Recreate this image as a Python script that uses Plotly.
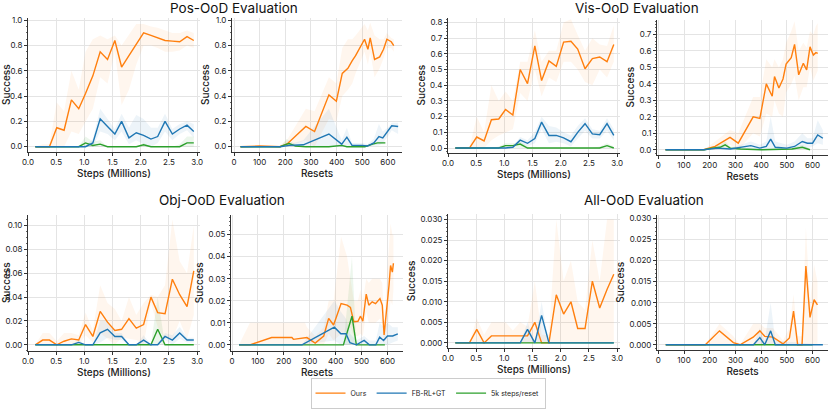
import plotly.graph_objects as go

# ---- data ----
STEPS = [0.13, 0.26, 0.38, 0.51, 0.64, 0.77, 0.90, 1.02, 1.15, 1.28, 1.41, 1.54,
         1.66, 1.79, 1.92, 2.05, 2.18, 2.30, 2.43, 2.56, 2.69, 2.82, 2.94]
ZEROS_STEPS = [0, 0, 0, 0, 0, 0, 0, 0, 0, 0, 0, 0, 0, 0, 0, 0, 0, 0, 0, 0, 0, 0, 0]

# Pos-OoD, steps
pos_ours = [0, 0, 0, 0.15, 0.13, 0.37, 0.30, 0.42, 0.56, 0.75, 0.69, 0.84, 0.63, 0.72, 0.81, 0.90, 0.88, 0.86, 0.84, 0.835, 0.83, 0.87, 0.84]
pos_ours_hi = [0, 0.02, 0.02, 0.35, 0.28, 0.60, 0.45, 0.75, 0.85, 0.88, 0.85, 0.88, 0.80, 0.88, 0.97, 0.97, 0.95, 0.94, 0.92, 0.90, 0.90, 0.92, 0.90]
pos_ours_lo = [0, 0, 0, 0, 0, 0.12, 0.10, 0.20, 0.30, 0.55, 0.50, 0.75, 0.33, 0.45, 0.65, 0.80, 0.80, 0.78, 0.75, 0.75, 0.76, 0.80, 0.78]
pos_fb = [0, 0, 0, 0, 0, 0, 0, 0, 0.03, 0.22, 0.16, 0.10, 0.20, 0.07, 0.11, 0.09, 0.06, 0.08, 0.20, 0.10, 0.14, 0.17, 0.12]
pos_fb_hi = [0, 0, 0, 0, 0, 0, 0, 0.01, 0.06, 0.30, 0.22, 0.14, 0.26, 0.15, 0.25, 0.22, 0.15, 0.15, 0.26, 0.14, 0.18, 0.20, 0.18]
pos_fb_lo = [0, 0, 0, 0, 0, 0, 0, 0, 0, 0.12, 0.10, 0.05, 0.12, 0.02, 0.05, 0.02, 0, 0.03, 0.12, 0.05, 0.10, 0.13, 0.07]
pos_gr = [0, 0, 0, 0, 0, 0, 0, 0.03, 0.01, 0.02, 0, 0, 0, 0, 0, 0.015, 0, 0, 0, 0, 0, 0.03, 0.03]
pos_gr_hi = [0, 0, 0, 0, 0, 0, 0, 0.08, 0.04, 0.05, 0, 0, 0, 0, 0, 0.03, 0, 0, 0, 0, 0.02, 0.08, 0.08]

# Pos-OoD, resets
posr_ours_x = [25, 100, 178, 206, 280, 314, 370, 399, 422, 444, 461, 474, 509, 522, 531, 548, 568, 583, 596, 613, 623]
posr_ours = [0, 0.005, 0, 0.02, 0.16, 0.12, 0.41, 0.36, 0.58, 0.62, 0.68, 0.72, 0.85, 0.77, 0.86, 0.69, 0.71, 0.77, 0.85, 0.83, 0.80]
posr_ours_hi = [0, 0.01, 0.01, 0.05, 0.30, 0.28, 0.55, 0.50, 0.78, 0.85, 0.85, 0.88, 0.97, 0.92, 0.98, 0.88, 0.85, 0.85, 0.90, 0.86, 0.85]
posr_ours_lo = [0, 0, 0, 0, 0.05, 0, 0.22, 0.20, 0.40, 0.45, 0.50, 0.58, 0.75, 0.65, 0.75, 0.55, 0.62, 0.70, 0.78, 0.78, 0.75]
posr_fb_x = [25, 180, 215, 270, 370, 420, 440, 460, 500, 520, 545, 565, 580, 600, 615, 640]
posr_fb = [0, 0, 0.01, 0.015, 0.10, 0.02, 0.075, 0.01, 0.01, 0.005, 0.03, 0.08, 0.07, 0.12, 0.165, 0.16]
posr_fb_hi = [0, 0, 0.02, 0.05, 0.30, 0.05, 0.15, 0.03, 0.03, 0.02, 0.06, 0.18, 0.12, 0.15, 0.19, 0.19]
posr_fb_lo = [0, 0, 0, 0, 0, 0, 0.01, 0, 0, 0, 0.01, 0.01, 0.03, 0.08, 0.13, 0.10]
posr_gr_x = [25, 180, 205, 215, 240, 280, 370, 420, 440, 510, 540, 560, 590]
posr_gr = [0, 0, 0.02, 0.025, 0.005, 0, 0, 0.01, 0, 0, 0.02, 0.03, 0.03]
posr_gr_hi = [0, 0, 0.06, 0.05, 0.02, 0, 0, 0.02, 0, 0, 0.03, 0.04, 0.04]
posr_gr_lo = [0, 0, 0, 0.005, 0, 0, 0, 0, 0, 0, 0.01, 0.02, 0.02]

# Vis-OoD, steps
vis_ours = [0, 0, 0, 0.07, 0.045, 0.18, 0.185, 0.245, 0.21, 0.50, 0.41, 0.65, 0.43, 0.555, 0.52, 0.675, 0.68, 0.63, 0.505, 0.57, 0.58, 0.55, 0.66]
vis_ours_hi = [0, 0, 0, 0.20, 0.10, 0.40, 0.30, 0.36, 0.30, 0.55, 0.55, 0.75, 0.55, 0.62, 0.62, 0.80, 0.82, 0.72, 0.62, 0.70, 0.66, 0.65, 0.78]
vis_ours_lo = [0, 0, 0, 0, 0, 0.05, 0.08, 0.10, 0.12, 0.35, 0.30, 0.50, 0.33, 0.45, 0.42, 0.55, 0.55, 0.50, 0.42, 0.40, 0.50, 0.45, 0.55]
vis_fb = [0, 0, 0, 0, 0, 0, 0, 0, 0.005, 0.05, 0.03, 0.06, 0.165, 0.08, 0.08, 0.065, 0.04, 0.10, 0.155, 0.09, 0.085, 0.155, 0.08]
vis_fb_hi = [0, 0, 0, 0, 0, 0, 0, 0, 0.01, 0.07, 0.05, 0.10, 0.20, 0.14, 0.13, 0.10, 0.08, 0.14, 0.19, 0.12, 0.11, 0.19, 0.12]
vis_fb_lo = [0, 0, 0, 0, 0, 0, 0, 0, 0, 0.03, 0.01, 0.03, 0.12, 0.03, 0.04, 0.03, 0.01, 0.06, 0.11, 0.06, 0.06, 0.11, 0.05]
vis_gr = [0, 0, 0, 0, 0, 0, 0, 0.015, 0.015, 0.025, 0, 0, 0, 0, 0, 0, 0, 0, 0, 0, 0, 0.015, 0]
vis_gr_hi = [0, 0, 0, 0, 0, 0, 0.01, 0.03, 0.03, 0.04, 0.01, 0, 0, 0, 0, 0, 0, 0, 0, 0, 0.01, 0.03, 0.01]

# Vis-OoD, resets
visr_ours_x = [28, 176, 221, 279, 311, 369, 395, 420, 443, 452, 469, 485, 497, 517, 530, 546, 564, 577, 590, 603, 613, 620]
visr_ours = [0, 0, 0.02, 0.075, 0.04, 0.20, 0.19, 0.40, 0.325, 0.445, 0.375, 0.43, 0.52, 0.56, 0.64, 0.455, 0.525, 0.485, 0.625, 0.575, 0.59, 0.585]
visr_ours_hi = [0, 0, 0.05, 0.12, 0.10, 0.32, 0.32, 0.55, 0.50, 0.55, 0.50, 0.55, 0.65, 0.72, 0.78, 0.60, 0.65, 0.62, 0.72, 0.70, 0.75, 0.77]
visr_ours_lo = [0, 0, 0, 0.03, 0, 0.10, 0.08, 0.22, 0.20, 0.30, 0.22, 0.20, 0.35, 0.40, 0.45, 0.30, 0.38, 0.38, 0.50, 0.42, 0.45, 0.48]
visr_fb_x = [28, 176, 230, 280, 360, 395, 420, 437, 455, 500, 530, 560, 580, 600, 620, 640]
visr_fb = [0, 0, 0.01, 0.005, 0.025, 0.01, 0.02, 0.065, 0.015, 0.01, 0.02, 0.05, 0.04, 0.04, 0.09, 0.07]
visr_fb_hi = [0, 0, 0.02, 0.01, 0.05, 0.03, 0.05, 0.20, 0.05, 0.03, 0.05, 0.10, 0.07, 0.07, 0.18, 0.12]
visr_fb_lo = [0, 0, 0, 0, 0.005, 0, 0, 0, 0, 0, 0, 0.01, 0.01, 0.02, 0.04, 0.03]
visr_gr_x = [28, 180, 210, 240, 260, 280, 320, 400, 520, 560, 590]
visr_gr = [0, 0, 0.01, 0.015, 0.03, 0.01, 0.005, 0, 0.005, 0.015, 0]
visr_gr_hi = [0, 0, 0.02, 0.03, 0.05, 0.02, 0.01, 0.005, 0.01, 0.03, 0.005]
visr_gr_lo = [0, 0, 0, 0.005, 0.01, 0, 0, 0, 0, 0.005, 0]

# Obj-OoD, steps
obj_ours = [0, 0.004, 0.004, 0, 0.003, 0.005, 0.004, 0.017, 0.007, 0.028, 0.019, 0.012, 0.013, 0.022, 0.014, 0.017, 0.040, 0.027, 0.026, 0.055, 0.042, 0.032, 0.062]
obj_ours_hi = [0, 0.010, 0.010, 0.003, 0.010, 0.010, 0.008, 0.027, 0.012, 0.050, 0.035, 0.030, 0.020, 0.040, 0.025, 0.035, 0.042, 0.040, 0.050, 0.105, 0.070, 0.060, 0.100]
obj_ours_lo = [0, 0, 0, 0, 0, 0, 0, 0.008, 0.002, 0.010, 0.005, 0, 0.006, 0.005, 0.004, 0, 0.035, 0.015, 0.005, 0.005, 0.020, 0.005, 0.025]
obj_fb = [0, 0, 0, 0, 0, 0, 0.002, 0, 0, 0.010, 0.013, 0.007, 0.007, 0, 0, 0.004, 0, 0, 0.007, 0.004, 0.010, 0.004, 0.004]
obj_fb_hi = [0, 0, 0, 0, 0, 0, 0.004, 0, 0, 0.020, 0.020, 0.010, 0.010, 0, 0, 0.008, 0, 0, 0.010, 0.008, 0.015, 0.006, 0.006]
obj_fb_lo = [0, 0, 0, 0, 0, 0, 0, 0, 0, 0.002, 0.006, 0.004, 0.004, 0, 0, 0, 0, 0, 0.004, 0, 0.005, 0.002, 0.002]
obj_gr = [0, 0, 0, 0, 0, 0, 0, 0, 0, 0, 0, 0, 0, 0, 0, 0, 0, 0.013, 0, 0, 0, 0, 0]
obj_gr_hi = [0, 0, 0, 0, 0, 0, 0, 0, 0, 0, 0, 0, 0, 0, 0, 0, 0, 0.040, 0, 0, 0, 0, 0]

# Obj-OoD, resets
objr_ours_x = [27, 69, 153, 231, 237, 282, 289, 321, 354, 373, 392, 421, 444, 457, 470, 486, 496, 505, 518, 528, 541, 554, 571, 580, 587, 606, 612, 619, 623]
objr_ours = [0, 0, 0.0033, 0.0033, 0.0025, 0.003, 0.0033, 0.0008, 0.004, 0.012, 0.009, 0.0187, 0.018, 0.017, 0.0105, 0.0107, 0.013, 0.0107, 0.023, 0.018, 0.0195, 0.0187, 0.021, 0.018, 0.0045, 0.027, 0.036, 0.033, 0.037]
objr_ours_hi = [0, 0.01, 0.01, 0.01, 0.01, 0.01, 0.008, 0.004, 0.008, 0.02, 0.02, 0.049, 0.04, 0.03, 0.02, 0.02, 0.025, 0.02, 0.03, 0.028, 0.03, 0.03, 0.03, 0.028, 0.01, 0.045, 0.055, 0.05, 0.05]
objr_ours_lo = [0, 0, 0, 0, 0, 0, 0, 0, 0, 0.005, 0.002, 0.005, 0.006, 0.008, 0.004, 0.004, 0.005, 0.004, 0.015, 0.01, 0.01, 0.01, 0.012, 0.01, 0, 0.012, 0.02, 0.018, 0.025]
objr_fb_x = [27, 270, 395, 420, 440, 455, 480, 510, 530, 555, 570, 585, 600, 620, 640]
objr_fb = [0, 0, 0.008, 0.005, 0.005, 0.001, 0, 0.002, 0, 0, 0.0035, 0.002, 0.004, 0.004, 0.005]
objr_fb_hi = [0, 0, 0.02, 0.015, 0.012, 0.005, 0.002, 0.004, 0.002, 0.002, 0.01, 0.008, 0.01, 0.008, 0.008]
objr_fb_lo = [0, 0, 0.002, 0, 0, 0, 0, 0, 0, 0, 0, 0, 0, 0.001, 0.002]
objr_gr_x = [27, 430, 463, 480, 590]
objr_gr = [0, 0, 0.013, 0, 0]
objr_gr_hi = [0, 0, 0.04, 0, 0]
objr_gr_lo = [0, 0, 0, 0, 0]

# All-OoD, steps
all_ours = [0, 0, 0, 0.0033, 0, 0.0017, 0.0017, 0.0017, 0.0017, 0.0017, 0.0017, 0.005, 0, 0, 0.0117, 0.007, 0.010, 0.0035, 0.0035, 0.015, 0.0085, 0.013, 0.0167]
all_ours_hi = [0, 0, 0, 0.006, 0.002, 0.005, 0.005, 0.005, 0.003, 0.005, 0.004, 0.015, 0.002, 0.002, 0.030, 0.015, 0.020, 0.010, 0.008, 0.025, 0.015, 0.030, 0.030]
all_fb = [0, 0, 0, 0, 0, 0, 0, 0, 0, 0, 0.0033, 0, 0.0067, 0, 0, 0, 0, 0, 0, 0, 0, 0, 0]
all_fb_hi = [0, 0, 0, 0, 0, 0, 0, 0, 0, 0, 0.005, 0, 0.010, 0, 0, 0, 0, 0, 0, 0, 0, 0, 0]

# All-OoD, resets
allr_ours_x = [29, 183, 238, 292, 318, 369, 395, 414, 446, 485, 510, 526, 542, 559, 574, 590, 606, 619]
allr_ours = [0, 0, 0.0033, 0.0005, 0, 0.0018, 0.0033, 0.002, 0.0018, 0.0002, 0.0016, 0.008, 0, 0, 0.0187, 0.0065, 0.0107, 0.0095]
allr_ours_hi = [0, 0, 0.005, 0.002, 0, 0.005, 0.005, 0.004, 0.004, 0.001, 0.004, 0.012, 0.002, 0.002, 0.028, 0.010, 0.019, 0.015]
allr_ours_lo = [0, 0, 0, 0, 0, 0, 0, 0, 0, 0, 0, 0, 0, 0, 0, 0, 0, 0]
allr_fb_x = [29, 370, 395, 414, 437, 455, 640]
allr_fb = [0, 0, 0.0017, 0, 0.0033, 0, 0]
allr_fb_hi = [0, 0, 0.004, 0.001, 0.010, 0.001, 0]
allr_fb_lo = [0, 0, 0, 0, 0, 0, 0]
allr_gr_x = [29, 370, 455, 600]
allr_gr = [0, 0, 0, 0]

NAMES = ['Ours', 'FB-RL+GT', '5k steps/reset']
COLORS = ['#ff7f0e', '#1f77b4', '#2ca02c']
FILLS = ['rgba(255,127,14,0.07)', 'rgba(31,119,180,0.08)', 'rgba(44,160,44,0.09)']

W, H = 830, 409


def px_dom(a, b, total):
    return [a / total, b / total]


def py_dom(top, bottom):
    return [1 - bottom / H, 1 - top / H]


# each series entry: (color index, x, mean, hi, lo)
panels = [
    dict(xp=(28, 200), yp=(18, 154), xr=[0, 3.05], yr=[-0.04, 1.02], dt=0.2, fmt='.1f', kind='steps',
         series=[(0, STEPS, pos_ours, pos_ours_hi, pos_ours_lo),
                 (2, STEPS, pos_gr, pos_gr_hi, ZEROS_STEPS),
                 (1, STEPS, pos_fb, pos_fb_hi, pos_fb_lo)]),
    dict(xp=(232, 402), yp=(18, 154), xr=[-8, 655], yr=[-0.04, 1.02], dt=0.2, fmt='.1f', kind='resets',
         series=[(0, posr_ours_x, posr_ours, posr_ours_hi, posr_ours_lo),
                 (2, posr_gr_x, posr_gr, posr_gr_hi, posr_gr_lo),
                 (1, posr_fb_x, posr_fb, posr_fb_hi, posr_fb_lo)]),
    dict(xp=(448, 620), yp=(18, 155), xr=[0, 3.05], yr=[-0.03, 0.83], dt=0.1, fmt='.1f', kind='steps',
         series=[(0, STEPS, vis_ours, vis_ours_hi, vis_ours_lo),
                 (2, STEPS, vis_gr, vis_gr_hi, ZEROS_STEPS),
                 (1, STEPS, vis_fb, vis_fb_hi, vis_fb_lo)]),
    dict(xp=(657, 828), yp=(20, 157), xr=[-5, 660], yr=[-0.03, 0.79], dt=0.1, fmt='.1f', kind='resets',
         series=[(0, visr_ours_x, visr_ours, visr_ours_hi, visr_ours_lo),
                 (2, visr_gr_x, visr_gr, visr_gr_hi, visr_gr_lo),
                 (1, visr_fb_x, visr_fb, visr_fb_hi, visr_fb_lo)]),
    dict(xp=(28, 200), yp=(218, 356), xr=[0, 3.05], yr=[-0.005, 0.109], dt=0.02, fmt='.2f', kind='steps',
         series=[(0, STEPS, obj_ours, obj_ours_hi, obj_ours_lo),
                 (2, STEPS, obj_gr, obj_gr_hi, ZEROS_STEPS),
                 (1, STEPS, obj_fb, obj_fb_hi, obj_fb_lo)]),
    dict(xp=(231, 403), yp=(218, 356), xr=[-4, 660], yr=[-0.0027, 0.059], dt=0.01, fmt='.2f', kind='resets',
         series=[(0, objr_ours_x, objr_ours, objr_ours_hi, objr_ours_lo),
                 (2, objr_gr_x, objr_gr, objr_gr_hi, objr_gr_lo),
                 (1, objr_fb_x, objr_fb, objr_fb_hi, objr_fb_lo)]),
    dict(xp=(448, 620), yp=(217, 353), xr=[0, 3.05], yr=[-0.0012, 0.0314], dt=0.005, fmt='.3f', kind='steps',
         series=[(0, STEPS, all_ours, all_ours_hi, ZEROS_STEPS),
                 (2, STEPS, ZEROS_STEPS, ZEROS_STEPS, ZEROS_STEPS),
                 (1, STEPS, all_fb, all_fb_hi, ZEROS_STEPS)]),
    dict(xp=(657, 828), yp=(218, 355), xr=[-5, 660], yr=[-0.0012, 0.0309], dt=0.005, fmt='.3f', kind='resets',
         series=[(0, allr_ours_x, allr_ours, allr_ours_hi, allr_ours_lo),
                 (2, allr_gr_x, allr_gr, allr_gr, allr_gr),
                 (1, allr_fb_x, allr_fb, allr_fb_hi, allr_fb_lo)]),
]

FONT = 'Inter, Liberation Sans, Arial, sans-serif'
fig = go.Figure()
shown = set()

for i, p in enumerate(panels):
    n = '' if i == 0 else str(i + 1)
    xa, ya = 'x' + n, 'y' + n
    # shaded bands go under all lines
    for idx, xs, mean, hi, lo in p['series']:
        fig.add_trace(go.Scatter(
            x=list(xs) + list(xs)[::-1], y=list(hi) + list(lo)[::-1],
            fill='toself', fillcolor=FILLS[idx], line=dict(width=0),
            mode='lines', hoverinfo='skip', showlegend=False, xaxis=xa, yaxis=ya))
    for idx, xs, mean, hi, lo in p['series']:
        fig.add_trace(go.Scatter(
            x=xs, y=mean, mode='lines', name=NAMES[idx],
            line=dict(color=COLORS[idx], width=1.4),
            legendgroup=NAMES[idx], legendrank=idx + 1,
            showlegend=idx not in shown, xaxis=xa, yaxis=ya))
        shown.add(idx)

    axis_common = dict(
        showline=True, linecolor='#333', linewidth=1, ticks='outside', ticklen=3,
        tickcolor='#333', tickwidth=1, showgrid=True, gridcolor='#e4e4e4', gridwidth=1,
        zeroline=False, automargin=False,
        tickfont=dict(size=8, color='#222', family=FONT))
    xtitle = 'Steps (Millions)' if p['kind'] == 'steps' else 'Resets'
    xaxis = dict(axis_common, domain=px_dom(*p['xp'], W), range=p['xr'], anchor=ya,
                 title=dict(text=xtitle, standoff=1,
                            font=dict(size=10, color='#222', family=FONT, weight=500)))
    if p['kind'] == 'steps':
        xaxis.update(dtick=0.5, tick0=0, tickformat='.1f')
    else:
        xaxis.update(dtick=100, tick0=0)
    yaxis = dict(axis_common, domain=py_dom(*p['yp']), range=p['yr'], anchor=xa,
                 dtick=p['dt'], tick0=0, tickformat=p['fmt'],
                 minor=dict(ticks='outside', ticklen=1.5, tickcolor='#666', showgrid=False),
                 title=dict(text='Success', standoff=2,
                            font=dict(size=10, color='#222', family=FONT, weight=500)))
    fig.update_layout({'xaxis' + n: xaxis, 'yaxis' + n: yaxis})

# (text, centre x px, centre y px)
titles = [('Pos-OoD Evaluation', 234, 8), ('Vis-OoD Evaluation', 637, 8),
          ('Obj-OoD Evaluation', 222, 203), ('All-OoD Evaluation', 644, 203)]
for text, cx, cy in titles:
    fig.add_annotation(text=text, x=cx / W, y=1 - cy / H, xref='paper', yref='paper',
                       showarrow=False, xanchor='center', yanchor='middle', borderpad=0,
                       font=dict(size=13.5, color='#111', family=FONT))

fig.update_layout(
    width=W, height=H, margin=dict(l=0, r=0, t=0, b=0),
    paper_bgcolor='white', plot_bgcolor='white',
    font=dict(family=FONT, color='#222'),
    legend=dict(orientation='h', x=428 / W, xanchor='center', y=1 - 399 / H, yanchor='middle',
                bordercolor='#cccccc', borderwidth=1, font=dict(size=7, color='#222'),
                itemwidth=30, tracegroupgap=0, bgcolor='white', entrywidth=0),
)

# page body has a default 8px margin; drop it so the figure sits at the corner
fig.write_html('out.html', config={'displayModeBar': False},
               post_script="document.body.style.margin='0px';")
